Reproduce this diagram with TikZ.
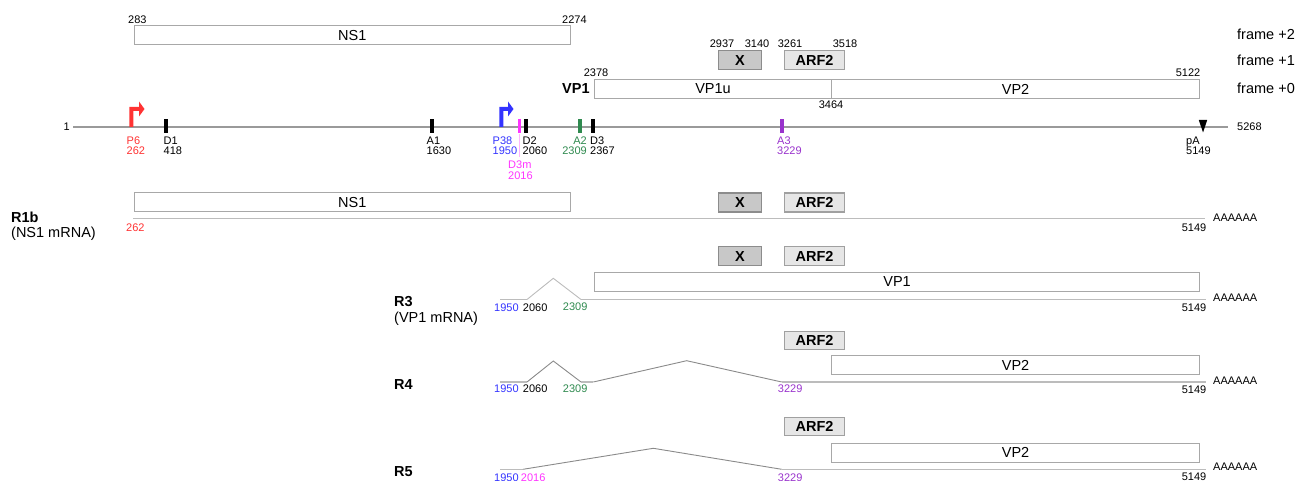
\documentclass[tikz,border=0pt]{standalone}
\usepackage{fontspec}
\setmainfont{Liberation Sans}
\definecolor{boxgray}{HTML}{A8A8A8}
\definecolor{xfill}{HTML}{C8C8C8}
\definecolor{xborder}{HTML}{8C8C8C}
\definecolor{arffill}{HTML}{E6E6E6}
\definecolor{arfborder}{HTML}{A0A0A0}
\definecolor{genomegray}{HTML}{9A9A9A}
\definecolor{mrnagray}{HTML}{BCBCBC}
\definecolor{splicegray}{HTML}{8A8A8A}
\definecolor{sred}{HTML}{FF3333}
\definecolor{sblue}{HTML}{3333FF}
\definecolor{smag}{HTML}{FF33FF}
\definecolor{smaglight}{HTML}{FFB3FF}
\definecolor{sgreen}{HTML}{2F8A4F}
\definecolor{spurple}{HTML}{9933CC}
\tikzset{
  orf/.style={draw=boxgray, fill=white, line width=1.1pt, inner sep=0pt, anchor=north west, minimum height=19pt, font=\fontsize{14.5}{16}\selectfont},
  xbox/.style={draw=xborder, fill=xfill, line width=1.1pt, inner sep=0pt, anchor=north west, minimum width=43pt, minimum height=19pt, font=\bfseries\fontsize{14.5}{16}\selectfont},
  arfbox/.style={draw=arfborder, fill=arffill, line width=1.1pt, inner sep=0pt, anchor=north west, minimum width=60pt, minimum height=19pt, font=\bfseries\fontsize{14.5}{16}\selectfont},
  num/.style={inner sep=0pt, font=\fontsize{11}{10.5}\selectfont},
  site/.style={num, anchor=north west, align=left},
  tickmark/.style={fill=black, inner sep=0pt, minimum width=4pt, minimum height=14pt},
  genome/.style={draw=genomegray, line width=1.6pt},
  mrna/.style={draw=mrnagray, line width=1.5pt},
  splice/.style={draw=splicegray, line width=0.9pt},
  rowlab/.style={inner sep=0pt, anchor=west, font=\bfseries\fontsize{14.5}{16}\selectfont},
  sublab/.style={inner sep=0pt, anchor=west, font=\fontsize{14.5}{16}\selectfont},
  framelab/.style={inner sep=0pt, anchor=west, font=\fontsize{14.5}{16}\selectfont},
}
\begin{document}
\begin{tikzpicture}[x=1pt,y=-1pt]
\useasboundingbox (0,0) rectangle (1309,481);

% ---------------- top: ORFs ----------------
\node[num, anchor=west] (n283) at (128,20) {283};
\node[num, anchor=west] (n2274) at (562,20) {2274};
\node[orf, minimum width=436.5pt] (ns1top) at (133.5,25) {NS1};

\node[num] (n2937) at (722,44) {2937};
\node[num] (n3140) at (757,44) {3140};
\node[num] (n3261) at (790,44) {3261};
\node[num] (n3518) at (845,44) {3518};
\node[xbox] (xtop) at (718,50) {X};
\node[arfbox] (arftop) at (784,50) {ARF2};

\node[num] (n2378) at (596,72.5) {2378};
\node[num] (n5122) at (1188,73) {5122};
\node[rowlab] (vp1lab) at (562,89) {VP1};
\node[orf, minimum width=237pt] (vp1u) at (594,79) {VP1u};
\node[orf, minimum width=368pt] (vp2top) at (831,79) {VP2};
\node[num] (n3464) at (831,105) {3464};

\node[framelab] (f2) at (1237,34) {frame +2};
\node[framelab] (f1) at (1237,60) {frame +1};
\node[framelab] (f0) at (1237,88) {frame +0};

% ---------------- genome ----------------
\coordinate (gstart) at (73,127);
\coordinate (gend) at (1228,127);
\draw[genome] (gstart) -- (gend);
\node[num, anchor=east] (g1) at (70,127) {1};
\node[num, anchor=west] (g5268) at (1237,127) {5268};

% promoters
\fill[sred] (129.3,127) -- (129.3,107) -- (139,107) -- (139,101.5) -- (144.5,109) -- (139,116.5) -- (139,111) -- (133.3,111) -- (133.3,127) -- cycle;
\fill[sblue] (499.3,127) -- (499.3,107) -- (508,107) -- (508,101.5) -- (513.5,109) -- (508,116.5) -- (508,111) -- (503.3,111) -- (503.3,127) -- cycle;

% splice site ticks
\node[tickmark] (tD1) at (166,126.5) {};
\node[tickmark] (tA1) at (432,126.5) {};
\node[tickmark, fill=smag, minimum width=3.6pt] (tD3m) at (519.4,126.5) {};
\node[tickmark] (tD2) at (525.5,126.5) {};
\node[tickmark, fill=sgreen] (tA2) at (579.7,126.5) {};
\node[tickmark] (tD3) at (593,126.5) {};
\node[tickmark, fill=spurple] (tA3) at (782,126.5) {};
\fill[black] (1198.8,120) -- (1207.2,120) -- (1203,132.5) -- cycle;
\coordinate (d3mend) at (519.4,157);
\draw[smaglight, line width=0.8pt] (tD3m.south) -- (d3mend);

% site labels
\node[site, text=sred] (lP6) at (126.5,136.5) {P6\\262};
\node[site] (lD1) at (163.5,136.5) {D1\\418};
\node[site] (lA1) at (426.5,136.5) {A1\\1630};
\node[site, text=sblue] (lP38) at (492.5,136.5) {P38\\1950};
\node[site] (lD2) at (522.5,136.5) {D2\\2060};
\node[site, text=smag] (lD3m) at (508,161) {D3m\\2016};
\node[site, anchor=north east, align=right, text=sgreen] (lA2) at (587,136.5) {A2\\2309};
\node[site] (lD3) at (590,136.5) {D3\\2367};
\node[site, text=spurple] (lA3) at (777,136.5) {A3\\3229};
\node[site] (lpA) at (1186,136.5) {pA\\5149};

% ---------------- R1b ----------------
\node[orf, minimum width=436.5pt] (ns1r1) at (133.5,192) {NS1};
\node[xbox] (xr1) at (718,192.5) {X};
\node[arfbox] (arfr1) at (784,192.5) {ARF2};
\coordinate (r1a) at (133,218.3);
\coordinate (r1z) at (1205,218.3);
\draw[mrna] (r1a) -- (r1z);
\node[num, anchor=west, text=sred] (r1n262) at (126,227.7) {262};
\node[num, anchor=east] (r1n5149) at (1206.5,227.7) {5149};
\node[num, anchor=west] (r1poly) at (1213,218) {AAAAAA};
\node[rowlab] (r1lab) at (11,217.3) {R1b};
\node[sublab] (r1sub) at (11,234) {(NS1 mRNA)};

% ---------------- R3 ----------------
\node[xbox] (xr3) at (718,246) {X};
\node[arfbox] (arfr3) at (784,246) {ARF2};
\node[orf, minimum width=605pt] (vp1r3) at (594,271.5) {VP1};
\coordinate (r3a) at (500,299.5);
\coordinate (r3b) at (527,299.5);
\coordinate (r3p) at (553.3,278.3);
\coordinate (r3c) at (581,299.5);
\coordinate (r3z) at (1206,299.5);
\draw[mrna] (r3a) -- (r3b);
\draw[splice, draw=mrnagray] (r3b) -- (r3p) -- (r3c);
\draw[mrna] (r3c) -- (r3z);
\node[num, anchor=west, text=sblue] (r3n1950) at (494,307.7) {1950};
\node[num, anchor=west] (r3n2060) at (522.7,307.7) {2060};
\node[num, anchor=west, text=sgreen] (r3n2309) at (562.7,306.7) {2309};
\node[num, anchor=east] (r3n5149) at (1206.5,307.7) {5149};
\node[num, anchor=west] (r3poly) at (1213,297.7) {AAAAAA};
\node[rowlab] (r3lab) at (394,301.7) {R3};
\node[sublab] (r3sub) at (394,319) {(VP1 mRNA)};

% ---------------- R4 ----------------
\node[arfbox, minimum height=18.6pt] (arfr4) at (784,330.7) {ARF2};
\node[orf, minimum width=368pt] (vp2r4) at (831,355) {VP2};
\coordinate (r4a) at (500,382);
\coordinate (r4b) at (527,382);
\coordinate (r4p) at (553.3,361);
\coordinate (r4c) at (581,382);
\coordinate (r4d) at (593.3,382);
\coordinate (r4q) at (686.7,360.7);
\coordinate (r4e) at (781.7,382);
\coordinate (r4z) at (1206,382);
\draw[mrna] (r4a) -- (r4b);
\draw[splice] (r4b) -- (r4p) -- (r4c);
\draw[mrna] (r4c) -- (r4d);
\draw[splice] (r4d) -- (r4q) -- (r4e);
\draw[mrna] (r4e) -- (r4z);
\node[num, anchor=west, text=sblue] (r4n1950) at (494,389) {1950};
\node[num, anchor=west] (r4n2060) at (522.7,389) {2060};
\node[num, anchor=west, text=sgreen] (r4n2309) at (562.7,389) {2309};
\node[num, anchor=west, text=spurple] (r4n3229) at (777.7,389) {3229};
\node[num, anchor=east] (r4n5149) at (1206.5,390) {5149};
\node[num, anchor=west] (r4poly) at (1213,380.7) {AAAAAA};
\node[rowlab] (r4lab) at (394,385) {R4};

% ---------------- R5 ----------------
\node[arfbox, minimum height=18.5pt] (arfr5) at (784,416.7) {ARF2};
\node[orf, minimum width=368pt] (vp2r5) at (831,442.7) {VP2};
\coordinate (r5a) at (500,469.3);
\coordinate (r5b) at (523,469.3);
\coordinate (r5p) at (653.3,448.3);
\coordinate (r5e) at (781.7,469.3);
\coordinate (r5z) at (1206,469.3);
\draw[mrna] (r5a) -- (r5b);
\draw[splice] (r5b) -- (r5p) -- (r5e);
\draw[mrna] (r5e) -- (r5z);
\node[num, anchor=west, text=sblue] (r5n1950) at (494,477.3) {1950};
\node[num, anchor=west, text=smag] (r5n2016) at (520.7,477.3) {2016};
\node[num, anchor=west, text=spurple] (r5n3229) at (777.7,477.3) {3229};
\node[num, anchor=east] (r5n5149) at (1206.5,476.7) {5149};
\node[num, anchor=west] (r5poly) at (1213,467) {AAAAAA};
\node[rowlab] (r5lab) at (394,471.7) {R5};
\end{tikzpicture}
\end{document}
